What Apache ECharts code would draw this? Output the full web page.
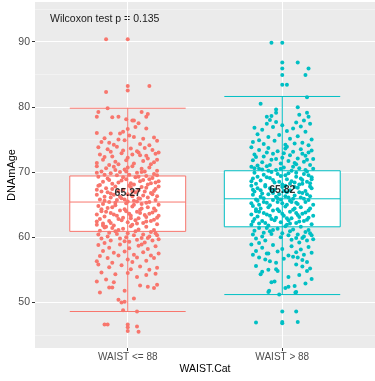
<!DOCTYPE html>
<html lang="en">
<head>
    <meta charset="UTF-8">
    <title>DNAmAge by WAIST.Cat</title>
    <style>
        html, body { margin: 0; padding: 0; background: #fff; }
        #main { width: 375px; height: 381px; }
    </style>
</head>
<body>
<div id="main"></div>
<script src="https://cdn.jsdelivr.net/npm/echarts@6/dist/echarts.min.js"></script>
<script>
    const myChart = echarts.init(document.getElementById('main'));

    // categories and tick labels
    const categories = ['WAIST <= 88', 'WAIST > 88'];
    const yTicks = [50, 60, 70, 80, 90];
    const yMinorTicks = [45, 55, 65, 75, 85, 95];

    // boxplot stats: [lower whisker, Q1, median, Q3, upper whisker]
    const boxA = [48.6, 60.9, 65.4, 69.4, 79.8];
    const boxB = [51.2, 61.6, 65.9, 70.2, 81.6];
    const means = [65.27, 65.82];

    // boxplot outliers (drawn on the centre line)
    const outliersA = [90.4, 83.2, 82.5, 46.6, 46.2, 45.6];
    const outliersB = [89.85, 86.8, 85.9, 84.9, 83.4, 48.6, 47.0, 46.8];

    // jittered points: [horizontal jitter, DNAmAge]
    const pointsA = [
        [-0.14,90.4],[0.14,83.2],[-0.14,82.3],
        [-0.13,79.8],[-0.19,79.2],[-0.2,78.5],[-0.1,78.4],[-0.06,78.5],[-0.01,78.1],[0.09,79.2],[0.13,78.9],[0.12,78.5],[0.04,77.9],[0.07,77.5],[0.03,77.9],
        [0.12,76.7],[0.05,76.9],[0.0,76.6],[-0.2,76.0],[-0.11,75.9],[-0.05,75.9],[-0.03,76.2],[0.04,75.4],[0.1,75.1],[-0.06,75.0],[-0.12,74.5],[0.17,75.3],[0.19,74.8],[-0.17,74.6],[0.08,74.3],[-0.02,74.9],[0.14,74.1],[-0.09,74.2],[0.01,75.6],[-0.15,75.2],
        [-0.19,73.8],[-0.13,73.5],[-0.07,73.9],[0.02,73.6],[0.06,73.2],[0.11,73.7],[0.16,73.4],[0.2,73.0],[-0.18,72.7],[-0.1,72.4],[-0.04,72.9],[0.0,72.2],[0.08,72.6],[0.13,72.1],[0.18,72.8],[-0.16,71.9],[-0.08,71.6],[-0.01,71.8],[0.04,71.3],[0.1,71.7],[0.15,71.2],[-0.2,71.4],[-0.12,71.1],[0.07,73.0],[-0.03,73.3],[0.19,71.9],[-0.15,72.3],[0.12,72.5],[-0.06,71.2],[0.03,72.7],[-0.11,73.1],[0.17,71.5],
        [-0.2,70.9],[-0.14,70.6],[-0.09,70.8],[-0.02,70.4],[0.03,70.9],[0.09,70.5],[0.14,70.7],[0.19,70.2],[-0.17,70.1],[-0.11,69.8],[-0.05,70.0],[0.01,69.6],[0.06,69.9],[0.12,69.4],[0.17,69.7],[-0.19,69.3],[-0.13,69.0],[-0.07,69.5],[-0.01,68.9],[0.05,69.2],[0.1,68.8],[0.16,69.1],[0.2,68.6],[-0.16,68.5],[-0.1,68.2],[-0.04,68.7],[0.02,68.3],[0.08,68.6],[0.13,68.1],[0.18,68.4],[-0.18,68.0],[-0.08,70.3],[0.0,70.7],[0.11,70.1],[-0.15,69.6],[0.07,69.3],[-0.03,69.2],[0.15,68.3],[-0.12,68.8],[0.04,68.1],[-0.06,68.4],[0.19,69.5],[-0.2,69.9],[0.09,70.0],[-0.01,70.1],[0.14,68.9],
        [-0.19,67.9],[-0.14,67.5],[-0.08,67.8],[-0.03,67.3],[0.02,67.7],[0.07,67.2],[0.12,67.6],[0.17,67.1],[0.2,67.8],[-0.17,67.0],[-0.11,66.7],[-0.06,67.1],[0.0,66.6],[0.05,66.9],[0.1,66.4],[0.15,66.8],[0.19,66.3],[-0.2,66.5],[-0.15,66.2],[-0.09,66.5],[-0.04,66.0],[0.03,66.3],[0.08,65.9],[0.13,66.1],[0.18,65.7],[-0.18,65.8],[-0.12,65.4],[-0.07,65.7],[-0.01,65.2],[0.04,65.6],[0.09,65.1],[0.14,65.4],[0.2,65.0],[-0.16,65.1],[-0.1,67.4],[0.01,67.9],[0.11,67.0],[-0.05,66.2],[0.06,65.5],[-0.13,66.9],[0.16,66.6],[-0.02,65.8],[0.12,65.3],[-0.2,67.3],[0.07,66.0],[-0.08,65.3],[0.18,67.4],[-0.15,65.6],[0.03,67.0],[-0.11,66.1],[0.09,67.7],[0.0,65.5],
        [-0.19,64.8],[-0.13,64.5],[-0.08,64.9],[-0.02,64.3],[0.03,64.7],[0.08,64.2],[0.13,64.6],[0.18,64.1],[-0.17,64.0],[-0.11,63.7],[-0.05,64.1],[0.01,63.6],[0.06,63.9],[0.11,63.4],[0.16,63.8],[0.2,63.3],[-0.2,63.5],[-0.15,63.2],[-0.09,63.5],[-0.03,63.0],[0.02,63.3],[0.07,62.9],[0.12,63.1],[0.17,62.7],[-0.18,62.8],[-0.12,62.5],[-0.06,62.8],[0.0,62.3],[0.05,62.6],[0.1,62.2],[0.15,62.5],[0.19,62.0],[-0.16,62.1],[-0.1,64.6],[0.04,65.0],[0.14,63.6],[-0.04,62.6],[0.09,64.4],[-0.14,63.9],[0.17,64.4],[-0.01,64.0],[0.12,62.4],[-0.2,62.4],[0.06,62.1],[-0.07,63.3],[0.19,63.0],[-0.17,64.3],[0.02,62.9],[-0.11,62.2],[0.08,63.7],
        [-0.2,61.9],[-0.15,61.5],[-0.16,61.8],[-0.14,61.6],[-0.09,61.8],[-0.03,61.3],[0.02,61.7],[0.07,61.2],[0.12,61.6],[0.17,61.1],[-0.18,61.0],[-0.12,60.7],[-0.06,61.1],[0.0,60.6],[0.05,60.9],[0.1,60.4],[0.15,60.8],[0.19,60.3],[-0.19,60.4],[-0.13,60.1],[-0.07,60.5],[-0.01,60.0],[0.04,60.3],[0.09,59.9],[0.14,60.1],[0.2,59.7],[-0.17,59.8],[-0.11,59.5],[-0.05,59.8],[0.01,59.3],[0.06,59.6],[0.11,59.2],[0.16,59.5],[-0.15,59.1],[-0.08,60.9],[0.03,61.9],[0.13,59.9],[-0.02,59.4],[0.18,60.6],[-0.1,61.4],
        [-0.19,58.8],[-0.12,58.4],[-0.05,58.9],[0.01,58.3],[0.07,58.7],[0.13,58.2],[0.18,58.6],[-0.16,57.9],[-0.09,57.6],[-0.02,57.8],[0.04,57.3],[0.1,57.7],[0.15,57.2],[0.2,57.5],[-0.18,57.1],[-0.13,56.8],[-0.06,57.2],[0.0,56.6],[0.06,56.9],[0.12,56.4],[0.17,56.8],[-0.2,56.3],[-0.1,56.1],[0.03,56.2],[0.09,58.9],
        [-0.19,55.8],[-0.12,55.4],[-0.04,55.7],[0.02,55.1],[0.08,55.5],[0.14,55.0],[0.19,55.3],[-0.17,54.6],[-0.08,54.3],[0.0,54.5],[0.06,53.9],[0.12,54.2],[0.18,54.4],[-0.2,53.2],[-0.09,53.1],[-0.14,53.5],
        [-0.18,51.5],[-0.12,52.3],[-0.1,52.3],[0.08,52.6],[0.13,52.4],[0.17,52.2],[0.19,52.7],[-0.02,51.8],[0.04,50.6],[-0.06,50.4],[-0.04,50.0],[-0.02,50.1],
        [-0.03,48.8],[0.06,48.6],[-0.15,46.6],[-0.13,46.6],[0.06,46.3],[0.07,45.5]
    ];
    const pointsB = [
        [-0.07,89.85],[0.1,86.8],[0.17,85.9],[0.15,84.9],[0.03,83.4],
        [0.16,81.5],[-0.14,80.5],[0.1,79.95],[-0.04,79.6],[-0.04,79.1],[0.16,79.1],[0.11,78.8],[0.17,78.5],[-0.1,78.5],[-0.07,78.6],[0.14,77.9],
        [-0.08,78.0],[-0.04,77.7],[-0.1,77.4],[0.0,77.2],[0.09,77.6],[0.12,77.0],[0.18,77.4],[-0.18,76.8],[-0.13,76.5],[-0.06,76.9],[0.03,76.3],[0.07,76.7],[0.15,76.2],[-0.16,75.8],[-0.09,75.4],[-0.02,75.7],[0.05,75.1],[0.1,75.5],[0.19,75.0],[-0.19,74.6],[-0.12,74.3],[-0.05,74.8],[0.02,74.2],[0.13,74.5],[0.17,74.1],[-0.15,74.9],[0.08,74.4],
        [-0.2,73.8],[-0.15,73.4],[-0.09,73.7],[-0.03,73.2],[0.02,73.6],[0.07,73.1],[0.12,73.5],[0.17,73.0],[-0.18,72.7],[-0.12,72.4],[-0.06,72.8],[0.0,72.2],[0.05,72.6],[0.1,72.1],[0.15,72.5],[0.2,72.0],[-0.19,71.8],[-0.13,71.5],[-0.07,71.9],[-0.01,71.3],[0.04,71.7],[0.09,71.2],[0.14,71.6],[0.18,71.1],[-0.16,71.0],[-0.1,73.0],[0.03,73.9],[0.13,72.8],[-0.04,72.0],[0.08,71.4],[-0.17,72.3],[0.19,73.3],[-0.08,71.1],[0.01,72.9],[0.16,71.9],
        [-0.2,70.8],[-0.15,70.5],[-0.1,70.9],[-0.04,70.3],[0.01,70.7],[0.06,70.2],[0.11,70.6],[0.16,70.1],[0.2,70.5],[-0.18,69.9],[-0.12,69.6],[-0.07,70.0],[-0.01,69.4],[0.04,69.8],[0.09,69.3],[0.14,69.7],[0.19,69.2],[-0.19,69.0],[-0.14,68.7],[-0.08,69.1],[-0.02,68.5],[0.03,68.9],[0.08,68.4],[0.13,68.8],[0.18,68.3],[-0.17,68.2],[-0.11,68.0],[-0.05,68.4],[0.0,68.1],[0.06,68.6],[0.11,68.1],[0.16,68.5],[-0.16,69.3],[-0.09,70.2],[0.02,69.5],[0.12,69.0],[-0.13,70.4],[0.07,70.8],[-0.03,69.7],[0.17,69.5],[-0.2,68.6],[0.05,68.2],[-0.06,68.8],[0.15,70.3],[-0.1,69.2],[0.09,69.9],[-0.18,70.6],[0.19,68.9],[-0.01,70.5],[0.13,68.2],
        [-0.2,67.9],[-0.16,67.5],[-0.11,67.8],[-0.05,67.3],[0.0,67.7],[0.05,67.2],[0.1,67.6],[0.15,67.1],[0.19,67.5],[-0.18,67.0],[-0.13,66.7],[-0.07,67.1],[-0.02,66.6],[0.03,66.9],[0.08,66.4],[0.13,66.8],[0.18,66.3],[-0.19,66.5],[-0.14,66.2],[-0.09,66.6],[-0.03,66.0],[0.02,66.3],[0.07,65.9],[0.12,66.1],[0.17,65.7],[-0.17,65.8],[-0.12,65.4],[-0.06,65.7],[0.0,65.2],[0.05,65.6],[0.1,65.1],[0.15,65.4],[0.2,65.0],[-0.2,65.2],[-0.15,65.0],[-0.08,67.5],[0.02,67.9],[0.11,66.9],[-0.04,66.2],[0.06,65.4],[-0.14,67.2],[0.16,66.6],[-0.01,65.8],[0.09,65.3],[-0.19,67.3],[0.04,66.1],[-0.1,65.3],[0.18,67.8],[-0.16,65.6],[0.01,67.1],[-0.12,66.0],[0.08,67.7],[-0.06,66.8],[0.14,65.9],[-0.03,65.4],
        [-0.19,64.8],[-0.14,64.4],[-0.08,64.9],[-0.03,64.3],[0.02,64.7],[0.07,64.2],[0.12,64.6],[0.17,64.1],[-0.17,64.0],[-0.12,63.7],[-0.06,64.1],[0.0,63.6],[0.05,63.9],[0.1,63.4],[0.15,63.8],[0.2,63.3],[-0.2,63.5],[-0.16,63.2],[-0.1,63.5],[-0.04,63.0],[0.01,63.3],[0.06,62.9],[0.11,63.1],[0.16,62.7],[-0.18,62.8],[-0.13,62.5],[-0.07,62.8],[-0.01,62.3],[0.04,62.6],[0.09,62.2],[0.14,62.5],[0.19,62.0],[-0.15,62.1],[-0.09,64.6],[0.03,65.0],[0.13,63.6],[-0.05,62.6],[0.08,64.4],[-0.15,63.9],[0.18,64.4],[-0.02,64.0],[0.11,62.4],[-0.19,62.4],[0.05,62.1],[-0.08,63.3],[0.17,63.0],[-0.17,64.3],[0.03,62.9],[-0.11,62.2],[0.09,63.7],
        [-0.2,61.9],[-0.15,61.4],[-0.09,61.8],[-0.03,61.3],[0.02,61.7],[0.07,61.2],[0.12,61.6],[0.17,61.1],[-0.18,61.0],[-0.12,60.7],[-0.06,61.1],[0.0,60.6],[0.05,60.9],[0.1,60.4],[0.15,60.8],[0.19,60.3],[-0.19,60.4],[-0.13,60.1],[-0.07,60.5],[-0.01,60.0],[0.04,60.3],[0.09,59.9],[0.14,60.1],[0.2,59.7],[-0.17,59.8],[-0.11,59.5],[0.06,59.6],[0.11,59.2],[0.16,59.5],[-0.15,59.1],[-0.08,60.9],[0.03,61.9],[0.13,59.9],[0.18,60.6],[-0.1,61.4],
        [-0.2,58.9],[-0.19,57.3],[-0.13,58.4],[-0.06,58.8],[0.0,58.2],[0.06,58.6],[0.12,58.1],[0.17,58.5],[-0.17,57.9],[-0.1,57.5],[-0.09,57.5],[-0.03,57.8],[0.04,57.2],[0.09,57.7],[0.14,57.3],[0.19,57.6],[-0.15,56.9],[-0.08,56.3],[0.01,56.7],[0.13,56.5],[0.16,56.2],[0.1,56.9],[-0.11,56.6],[0.07,57.0],[-0.04,56.1],
        [-0.13,54.7],[-0.14,54.3],[-0.09,55.0],[-0.04,55.1],[-0.03,54.8],[0.11,54.2],[0.13,55.5],[0.16,54.8],[0.18,55.2],[0.09,55.8],[-0.07,53.1],[-0.05,53.2],[0.15,52.9],[0.19,53.6],[-0.17,55.6],[0.04,53.9],
        [0.08,52.5],[0.04,52.4],[0.02,52.2],[-0.09,51.6],[-0.02,51.2],[0.09,51.6],[-0.085,51.8],[0.085,51.5],
        [0.09,48.6],[-0.17,46.9],[0.1,47.0]
    ];

    const colors = ['#F8766D', '#00BFC4'];
    const halfBox = 0.375;

    // box + errorbar drawn through the value axes
    function renderBox(params, api) {
        const x = api.value(0);
        const color = colors[params.dataIndex];
        const lo = api.value(1), q1 = api.value(2), med = api.value(3), q3 = api.value(4), hi = api.value(5);
        const pLeftQ3 = api.coord([x - halfBox, q3]);
        const pRightQ1 = api.coord([x + halfBox, q1]);
        const pMedL = api.coord([x - halfBox, med]);
        const pMedR = api.coord([x + halfBox, med]);
        const pLoL = api.coord([x - halfBox, lo]);
        const pLoR = api.coord([x + halfBox, lo]);
        const pHiL = api.coord([x - halfBox, hi]);
        const pHiR = api.coord([x + halfBox, hi]);
        const pLo = api.coord([x, lo]);
        const pHi = api.coord([x, hi]);
        const line = { stroke: color, lineWidth: 1, fill: null };
        return {
            type: 'group',
            children: [
                { type: 'rect', shape: { x: pLeftQ3[0], y: pLeftQ3[1], width: pRightQ1[0] - pLeftQ3[0], height: pRightQ1[1] - pLeftQ3[1] },
                  style: { fill: '#fff', stroke: color, lineWidth: 1 } },
                { type: 'line', shape: { x1: pMedL[0], y1: pMedL[1], x2: pMedR[0], y2: pMedR[1] }, style: line },
                { type: 'line', shape: { x1: pLo[0], y1: pLo[1], x2: pHi[0], y2: pHi[1] }, style: line },
                { type: 'line', shape: { x1: pLoL[0], y1: pLoL[1], x2: pLoR[0], y2: pLoR[1] }, style: line },
                { type: 'line', shape: { x1: pHiL[0], y1: pHiL[1], x2: pHiR[0], y2: pHiR[1] }, style: line }
            ]
        };
    }

    const font = 'Liberation Sans, Arial, sans-serif';

    const option = {
        animation: false,
        textStyle: { fontFamily: font },
        grid: {
            left: 35, right: 0, top: 2, bottom: 33,
            outerBoundsMode: 'none', containLabel: false,
            show: true, backgroundColor: '#EBEBEB', borderWidth: 0
        },
        graphic: [{
            type: 'text', left: 50, top: 14,
            style: { text: 'Wilcoxon test p = 0.135', fontSize: 10.5, fill: '#1a1a1a', fontFamily: font }
        }],
        xAxis: {
            type: 'value', min: 0.4, max: 2.6,
            name: 'WAIST.Cat', nameLocation: 'middle', nameGap: 16, nameMoveOverlap: false,
            nameTextStyle: { color: '#000', fontSize: 10.5, fontFamily: font },
            axisLine: { show: false },
            axisTick: { show: true, length: 3, customValues: [1, 2], lineStyle: { color: '#333' } },
            axisLabel: {
                customValues: [1, 2], margin: 4, color: '#4D4D4D', fontSize: 10, fontFamily: font,
                formatter: v => categories[Math.round(v) - 1]
            },
            splitLine: { show: true, lineStyle: { color: '#fff', width: 1 } }
        },
        yAxis: [{
            type: 'value', min: 43, max: 96.1,
            name: 'DNAmAge', nameLocation: 'middle', nameGap: 18, nameMoveOverlap: false,
            nameTextStyle: { color: '#000', fontSize: 11, fontFamily: font },
            axisLine: { show: false },
            axisTick: { show: true, length: 3, customValues: yTicks, lineStyle: { color: '#333' } },
            axisLabel: { customValues: yTicks, margin: 5, color: '#4D4D4D', fontSize: 10.5, fontFamily: font },
            splitLine: { show: true, lineStyle: { color: '#fff', width: 1 } }
        }, {
            type: 'value', min: 43, max: 96.1, position: 'left',
            axisLine: { show: false },
            axisTick: { show: false, customValues: yMinorTicks },
            axisLabel: { show: false },
            splitLine: { show: true, lineStyle: { color: '#F6F6F6', width: 0.6 } }
        }],
        series: [
            {
                type: 'custom', z: 2,
                renderItem: renderBox,
                data: [[1, ...boxA], [2, ...boxB]]
            },
            {
                type: 'scatter', z: 3, symbolSize: 4,
                itemStyle: { color: colors[0], opacity: 1 },
                data: pointsA.map(p => [1 + p[0], p[1]]).concat(outliersA.map(v => [1, v]))
            },
            {
                type: 'scatter', z: 3, symbolSize: 4,
                itemStyle: { color: colors[1], opacity: 1 },
                data: pointsB.map(p => [2 + p[0], p[1]]).concat(outliersB.map(v => [2, v]))
            },
            {
                type: 'scatter', z: 4, symbolSize: 1,
                itemStyle: { color: 'rgba(0,0,0,0)' },
                label: {
                    show: true, position: 'inside', offset: [0, -9.5],
                    color: '#000', fontWeight: 'bold', fontSize: 10.5, fontFamily: font,
                    formatter: p => p.value[1].toFixed(2)
                },
                data: means.map((m, i) => [i + 1, m])
            }
        ]
    };

    myChart.setOption(option);
</script>
</body>
</html>
